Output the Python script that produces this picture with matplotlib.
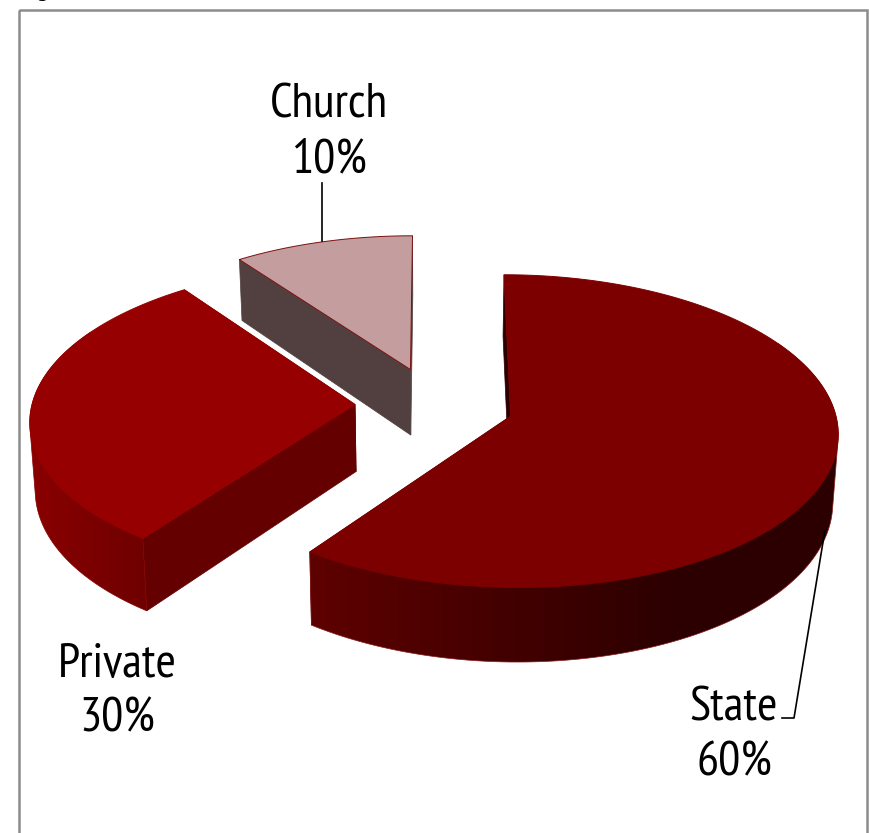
import numpy as np
import matplotlib
matplotlib.use("Agg")
import matplotlib.pyplot as plt
from matplotlib.patches import Polygon, Rectangle
from matplotlib import font_manager as fm

# Share of schools by ownership
categories = ["State", "Private", "Church"]
shares = [60, 30, 10]
label_text = ["State\n60%", "Private\n30%", "Church\n10%"]
top_colors = ["#7d0000", "#960000", "#c49e9e"]
top_edges = ["#7d0000", "#960000", "#7a1010"]
rim_left = ["#5e0000", "#8a0000", "#524040"]
rim_right = ["#2c0000", "#6e0000", "#524040"]
wall_colors = ["#600000", "#640000", "#524040"]
edge_colors = ["#8a1a1a", "#8a0000", "#7a1010"]

# Projection of the tilted pie onto the canvas, in pixels
CX, CY = 434.5, 404.5
RX, RY = 323.0, 152.7
PERSP = 0.0947
EXPLODE = 0.246
DEPTH = 67.0
BASE_SHRINK = 0.0135


def project(x, y, z=0.0):
    w = 1.0 / (1.0 + PERSP * y)
    s = 1.0 - BASE_SHRINK * z / DEPTH
    return CX + RX * x * w * s, CY - RY * y * w + z * w


def convex_hull(points):
    """Outline of a point set, so the rim meets both arcs along tangents."""
    pts = sorted(map(tuple, points))

    def half(seq):
        chain = []
        for p in seq:
            while len(chain) >= 2 and (
                (chain[-1][0] - chain[-2][0]) * (p[1] - chain[-2][1])
                - (chain[-1][1] - chain[-2][1]) * (p[0] - chain[-2][0])
            ) <= 0:
                chain.pop()
            chain.append(p)
        return chain[:-1]

    return np.array(half(pts) + half(pts[::-1]))


fig = plt.figure(figsize=(8.69, 8.33), dpi=100)
ax = fig.add_axes([0, 0, 1, 1])
ax.set_xlim(0, 869)
ax.set_ylim(833, 0)
ax.axis("off")

ax.add_patch(Rectangle((18.5, 9.5), 848, 840, fill=False, ec="#8c8c8c", lw=1.8))

# Angles run clockwise from twelve o'clock; State starts at the top
edges = np.cumsum([0] + shares) * 3.6
order = [2, 1, 0]  # far slice first so nearer slices overlap it

for idx in order:
    a0, a1 = np.radians(edges[idx]), np.radians(edges[idx + 1])
    mid = (a0 + a1) / 2
    ox, oy = EXPLODE * np.sin(mid), EXPLODE * np.cos(mid)
    t = np.linspace(a0, a1, 240)
    rx, ry = ox + np.sin(t), oy + np.cos(t)
    z = 10

    # Cut faces visible from the viewer
    for ang in (a0, a1):
        ex, ey = ox + np.sin(ang), oy + np.cos(ang)
        quad = [project(ox, oy), project(ex, ey), project(ex, ey, DEPTH), project(ox, oy, DEPTH)]
        color = "#2c0000" if (idx == 0 and ang == a0) else wall_colors[idx]
        ax.add_patch(Polygon(quad, closed=True, fc=color, ec=color, lw=0.5, zorder=z))

    # Outer rim with a left-to-right shade clipped to its outline
    keep = np.cos(t) < 0.5
    if idx != 2 and keep.any():
        tx, ty = project(rx[keep], ry[keep])
        bx, by = project(rx[keep], ry[keep], DEPTH)
        outline = convex_hull(np.r_[np.c_[tx, ty], np.c_[bx, by]])
        rim = Polygon(outline, closed=True, fc="none", ec=edge_colors[idx], lw=0.5, zorder=z + 1)
        ax.add_patch(rim)
        x0, x1 = outline[:, 0].min(), outline[:, 0].max()
        y0, y1 = outline[:, 1].min(), outline[:, 1].max()
        ramp = np.clip(np.linspace(0, 1, 256) * (1.45 if idx == 0 else 1.0), 0, 1)
        c0 = np.array(matplotlib.colors.to_rgb(rim_left[idx]))
        c1 = np.array(matplotlib.colors.to_rgb(rim_right[idx]))
        shade = (c0[None, :] + (c1 - c0)[None, :] * ramp[:, None])[None, :, :]
        im = ax.imshow(shade, extent=(x0, x1, y1, y0), aspect="auto",
                       interpolation="bilinear", zorder=z + 0.9)
        im.set_clip_path(rim)

    # Top surface
    px, py = project(np.r_[ox, rx], np.r_[oy, ry])
    ax.add_patch(Polygon(np.c_[px, py], closed=True, fc=top_colors[idx],
                         ec=top_edges[idx], lw=0.7, zorder=z + 2))

ax.set_xlim(0, 869)
ax.set_ylim(833, 0)

# Leader lines
ax.plot([322, 322], [183, 241], color="black", lw=1.2, zorder=20)
ax.plot([825, 794, 782], [530, 718, 718], color="black", lw=1.2, zorder=20)

# Slice labels in a narrow humanist face
available = {f.name for f in fm.fontManager.ttflist}
font = next(n for n in ["PT Sans Narrow", "Open Sans Condensed", "Abel", "Lato", "DejaVu Sans"]
            if n in available)
positions = [(734, 736), (117, 692), (329, 133)]
for text, (x, y) in zip(label_text, positions):
    ax.text(x, y, text, ha="center", va="center", fontsize=35.5, family=font,
            linespacing=1.30, color="black", zorder=21)

# Caption above the panel, only its descender reaches the canvas
ax.text(20, -3, "Figure", ha="left", va="baseline", fontsize=15, color="black")

fig.savefig("out.png", dpi=100)
